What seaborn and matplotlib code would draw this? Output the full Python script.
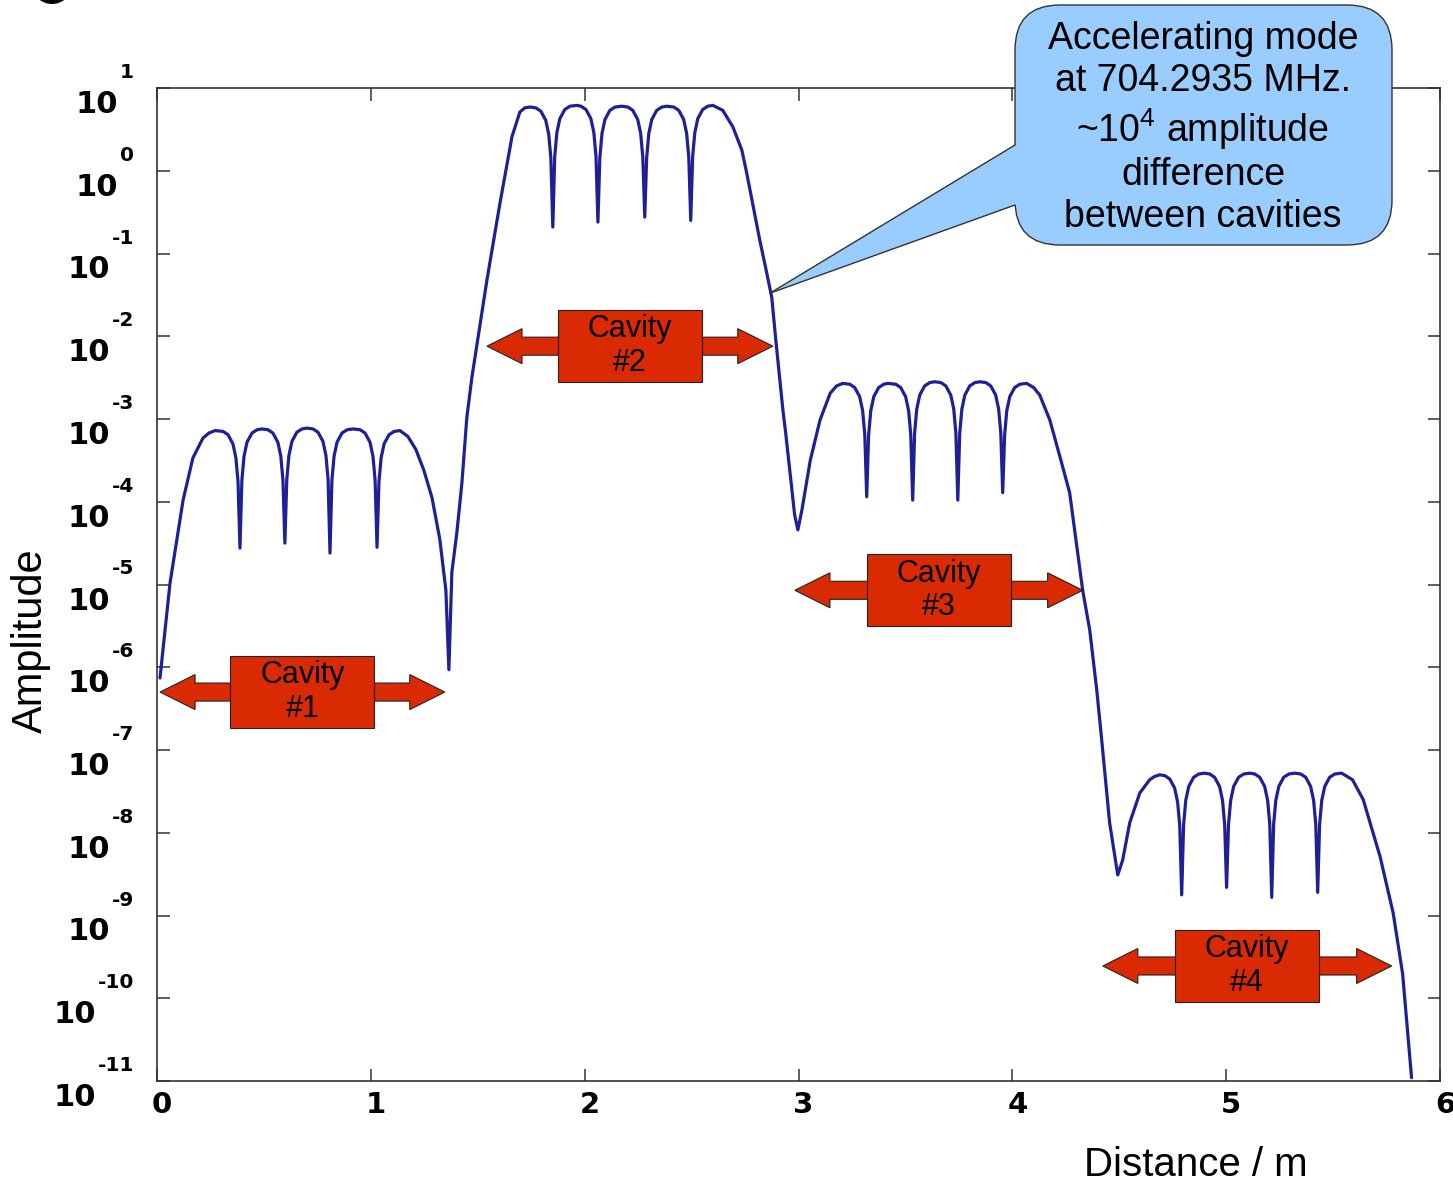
import matplotlib
matplotlib.use("Agg")
import pandas as pd
import matplotlib.pyplot as plt
from matplotlib.patches import Polygon, Rectangle, FancyBboxPatch, Ellipse
from matplotlib.lines import Line2D
from matplotlib.transforms import ScaledTranslation
import seaborn as sns

# field amplitude along the structure
# distance in m, amplitude given as power of ten
cav1_x = [0.014, 0.033, 0.061, 0.089, 0.122, 0.168, 0.215, 0.243, 0.271,
          0.309, 0.332, 0.355, 0.369, 0.379, 0.388,
          0.397, 0.407, 0.421, 0.444, 0.468, 0.491,
          0.519, 0.542, 0.565, 0.579, 0.589, 0.598,
          0.607, 0.617, 0.631, 0.654, 0.678, 0.701,
          0.730, 0.753, 0.776, 0.790, 0.800, 0.809,
          0.818, 0.828, 0.842, 0.865, 0.889, 0.916,
          0.950, 0.973, 0.996, 1.010, 1.020, 1.029,
          1.038, 1.048, 1.062, 1.085, 1.109, 1.136,
          1.173, 1.211, 1.248, 1.286, 1.323, 1.351, 1.365,
          1.379, 1.402, 1.426, 1.449]
cav1_e = [-6.13, -5.67, -4.98, -4.52, -3.98, -3.47, -3.23, -3.17, -3.14,
          -3.15, -3.19, -3.30, -3.47, -3.76, -4.56,
          -3.74, -3.45, -3.28, -3.17, -3.13, -3.12,
          -3.13, -3.17, -3.28, -3.45, -3.74, -4.50,
          -3.73, -3.44, -3.27, -3.16, -3.12, -3.11,
          -3.12, -3.16, -3.27, -3.44, -3.73, -4.62,
          -3.74, -3.45, -3.28, -3.17, -3.13, -3.12,
          -3.13, -3.17, -3.28, -3.45, -3.74, -4.55,
          -3.76, -3.47, -3.30, -3.19, -3.15, -3.14,
          -3.21, -3.37, -3.62, -3.95, -4.46, -5.07, -6.03,
          -4.85, -4.38, -3.77, -2.98]

cav2_x = [1.473, 1.543, 1.604, 1.660, 1.697, 1.720, 1.744,
          1.772, 1.795, 1.818, 1.832, 1.842, 1.851,
          1.860, 1.870, 1.884, 1.907, 1.931, 1.963,
          1.983, 2.006, 2.029, 2.043, 2.053, 2.062,
          2.071, 2.081, 2.095, 2.118, 2.142, 2.174,
          2.202, 2.225, 2.248, 2.262, 2.272, 2.281,
          2.290, 2.300, 2.314, 2.337, 2.361, 2.384,
          2.417, 2.440, 2.463, 2.477, 2.487, 2.496,
          2.505, 2.515, 2.529, 2.552, 2.576, 2.599,
          2.646, 2.693, 2.735, 2.758, 2.819, 2.847, 2.875, 2.894, 2.913,
          2.927, 2.941, 2.959, 2.982, 2.997]
cav2_e = [-2.49, -1.32, -0.39, 0.41, 0.71, 0.76, 0.77,
          0.76, 0.72, 0.61, 0.44, 0.15, -0.68,
          0.17, 0.46, 0.63, 0.74, 0.78, 0.79,
          0.78, 0.74, 0.63, 0.46, 0.17, -0.62,
          0.16, 0.45, 0.62, 0.73, 0.77, 0.78,
          0.77, 0.73, 0.62, 0.45, 0.16, -0.56,
          0.16, 0.45, 0.62, 0.73, 0.77, 0.78,
          0.77, 0.73, 0.62, 0.45, 0.16, -0.60,
          0.17, 0.46, 0.63, 0.74, 0.78, 0.79,
          0.73, 0.53, 0.25, -0.03, -0.84, -1.18, -1.53, -2.05, -2.53,
          -2.89, -3.19, -3.62, -4.16, -4.34]

cav3_x = [3.016, 3.055, 3.101, 3.148, 3.178, 3.207,
          3.240, 3.263, 3.286, 3.300, 3.310, 3.319,
          3.328, 3.338, 3.352, 3.375, 3.399, 3.417,
          3.455, 3.478, 3.501, 3.515, 3.525, 3.534,
          3.543, 3.553, 3.567, 3.590, 3.614, 3.637,
          3.666, 3.689, 3.712, 3.726, 3.736, 3.745,
          3.754, 3.764, 3.778, 3.801, 3.825, 3.848,
          3.876, 3.899, 3.922, 3.936, 3.946, 3.955,
          3.964, 3.974, 3.988, 4.011, 4.035, 4.067,
          4.100, 4.128, 4.175, 4.221, 4.268, 4.329, 4.362, 4.395, 4.418,
          4.455, 4.493]
cav3_e = [-4.10, -3.50, -3.01, -2.69, -2.60, -2.57,
          -2.58, -2.62, -2.73, -2.90, -3.19, -3.94,
          -3.19, -2.90, -2.73, -2.62, -2.58, -2.57,
          -2.58, -2.62, -2.73, -2.90, -3.19, -3.98,
          -3.17, -2.88, -2.71, -2.60, -2.56, -2.55,
          -2.56, -2.60, -2.71, -2.88, -3.17, -3.98,
          -3.17, -2.88, -2.71, -2.60, -2.56, -2.55,
          -2.56, -2.60, -2.71, -2.88, -3.17, -3.89,
          -3.19, -2.90, -2.73, -2.62, -2.58, -2.57,
          -2.62, -2.71, -3.01, -3.44, -3.89, -5.07, -5.55, -6.28, -6.88,
          -7.88, -8.51]

cav4_x = [4.516, 4.549, 4.596, 4.642, 4.665, 4.689,
          4.713, 4.736, 4.759, 4.773, 4.783, 4.792,
          4.801, 4.811, 4.825, 4.848, 4.872, 4.899,
          4.923, 4.946, 4.969, 4.983, 4.993, 5.002,
          5.011, 5.021, 5.035, 5.058, 5.082, 5.110,
          5.134, 5.157, 5.180, 5.194, 5.204, 5.213,
          5.222, 5.232, 5.246, 5.269, 5.293, 5.320,
          5.349, 5.372, 5.395, 5.409, 5.419, 5.428,
          5.437, 5.447, 5.461, 5.484, 5.508, 5.540,
          5.591, 5.641, 5.720, 5.781, 5.825, 5.867]
cav4_e = [-8.33, -7.88, -7.52, -7.36, -7.32, -7.30,
          -7.31, -7.35, -7.46, -7.63, -7.92, -8.75,
          -7.90, -7.61, -7.44, -7.33, -7.29, -7.28,
          -7.29, -7.33, -7.44, -7.61, -7.90, -8.66,
          -7.90, -7.61, -7.44, -7.33, -7.29, -7.28,
          -7.29, -7.33, -7.44, -7.61, -7.90, -8.78,
          -7.90, -7.61, -7.44, -7.33, -7.29, -7.28,
          -7.29, -7.33, -7.44, -7.61, -7.90, -8.72,
          -7.90, -7.61, -7.44, -7.33, -7.29, -7.28,
          -7.36, -7.60, -8.29, -8.97, -9.70, -10.96]

# cavity markers: arrow ends (m) and height (power of ten)
cavity_names = ["Cavity\n#1", "Cavity\n#2", "Cavity\n#3", "Cavity\n#4"]
arrow_left = [0.014, 1.543, 2.983, 4.423]
arrow_right = [1.346, 2.880, 4.329, 5.774]
arrow_exp = [-6.30, -2.12, -5.07, -9.61]

x_ticks = [0, 1, 2, 3, 4, 5, 6]
y_exps = list(range(-11, 2))

callout_text = ("Accelerating mode\nat 704.2935 MHz.\n~10$^4$ amplitude\n"
                "difference\nbetween cavities")
callout_point = (2.866, -1.48)

sns.set_style("ticks")
plt.rcParams["font.family"] = ["Liberation Sans", "DejaVu Sans"]
plt.rcParams["mathtext.fontset"] = "custom"
plt.rcParams["mathtext.rm"] = "Liberation Sans"
plt.rcParams["text.color"] = "black"
plt.rcParams["xtick.labelcolor"] = "black"

curve = pd.DataFrame({
    "dist": cav1_x + cav2_x + cav3_x + cav4_x,
    "amp": [10.0 ** e for e in cav1_e + cav2_e + cav3_e + cav4_e],
})

W, H = 1453, 1186
fig = plt.figure(figsize=(W / 100, H / 100), dpi=100)
ax = fig.add_axes([157 / W, 105 / H, 1283 / W, 993 / H])

sns.lineplot(data=curve, x="dist", y="amp", sort=False, estimator=None,
             color="#1f1f96", linewidth=2.3, ax=ax, zorder=2)
ax.set_yscale("log")
ax.set_xlim(0, 6)
ax.set_ylim(1e-11, 10)
ax.set_xlabel("")
ax.set_ylabel("")
ax.set_xticks(x_ticks)
ax.set_yticks([10.0 ** e for e in y_exps])
ax.yaxis.set_minor_locator(matplotlib.ticker.NullLocator())
ax.tick_params(which="major", direction="in", length=9, width=1.1,
               top=True, right=True, labelleft=False, color="#333333",
               labelsize=21, pad=7, labelcolor="black")
for spine in ax.spines.values():
    spine.set_color("#333333")
    spine.set_linewidth(1.2)

shift = ScaledTranslation(5 / 100, 0, fig.dpi_scale_trans)
ax.set_xticklabels([str(t) for t in x_ticks])
for lab in ax.get_xticklabels():
    lab.set_fontfamily("DejaVu Sans")
    lab.set_fontweight("bold")
    lab.set_transform(lab.get_transform() + shift)

# gnuplot style "10" with raised exponent
for e in y_exps:
    sup = ax.annotate(str(e), xy=(0, 10.0 ** e), xycoords=("axes fraction", "data"),
                      xytext=(-23, 10), textcoords="offset pixels",
                      ha="right", va="baseline", fontsize=14.5,
                      fontweight="bold", family="DejaVu Sans", color="black")
    ax.annotate("10", xy=(0, 0), xycoords=sup, xytext=(-2, -31),
                textcoords="offset pixels", ha="right", va="baseline",
                fontsize=22, fontweight="bold", family="DejaVu Sans",
                color="black")

# red double arrows with cavity boxes
head_len, head_h, shaft_h = 0.164, 0.2115, 0.109
box_w, box_h = 0.3366, 0.435
red = "#d92a04"
for name, x0, x1, yc in zip(cavity_names, arrow_left, arrow_right, arrow_exp):
    pts = [(x0, yc), (x0 + head_len, yc + head_h), (x0 + head_len, yc + shaft_h),
           (x1 - head_len, yc + shaft_h), (x1 - head_len, yc + head_h), (x1, yc),
           (x1 - head_len, yc - head_h), (x1 - head_len, yc - shaft_h),
           (x0 + head_len, yc - shaft_h), (x0 + head_len, yc - head_h)]
    ax.add_patch(Polygon([(px, 10.0 ** py) for px, py in pts], closed=True,
                         facecolor=red, edgecolor="#222222", linewidth=0.8, zorder=3))
    xc = (x0 + x1) / 2
    ax.add_patch(Rectangle((xc - box_w, 10.0 ** (yc - box_h)), 2 * box_w,
                           10.0 ** (yc + box_h) - 10.0 ** (yc - box_h),
                           facecolor=red, edgecolor="#222222", linewidth=0.8, zorder=4))
    ax.text(xc, 10.0 ** yc, name, ha="center", va="center", fontsize=22,
            linespacing=1.15, color="black", zorder=5)

# speech bubble callout
inch = fig.dpi_scale_trans
bx, by, bw, bh = 10.15, 9.41, 3.77, 2.40
bubble_col = "#99ccff"
fig.add_artist(FancyBboxPatch((bx, by), bw, bh,
                              boxstyle="round,pad=0,rounding_size=0.45",
                              transform=inch, facecolor=bubble_col,
                              edgecolor="#333333", linewidth=1.0, zorder=10))
tip = ax.transData.transform((callout_point[0], 10.0 ** callout_point[1])) / 100
base_top, base_bot = 10.41, 9.81
fig.add_artist(Polygon([tuple(tip), (bx, base_top), (bx + 0.1, base_top),
                        (bx + 0.1, base_bot), (bx, base_bot)], closed=True,
                       transform=inch, facecolor=bubble_col, edgecolor="none",
                       zorder=11))
for yb in (base_top, base_bot):
    fig.add_artist(Line2D([tip[0], bx], [tip[1], yb], transform=inch,
                          color="#333333", linewidth=1.0, zorder=12))
fig.text(1203 / W, 1 - 128 / H, callout_text, ha="center", va="center",
         fontsize=27, linespacing=1.2, color="black", zorder=13)

# axis titles
fig.text(31 / W, 1 - 641 / H, "Amplitude", rotation=90, ha="center",
         va="center", fontsize=30, color="black")
fig.text(1196 / W, 1 - 1176 / H, "Distance / m", ha="center", va="baseline",
         fontsize=29, color="black")

# clipped glyph at the top left corner of the slide
fig.add_artist(Ellipse((0.52, 11.99), 0.38, 0.34, transform=inch,
                       facecolor="black", edgecolor="none"))

fig.savefig("out.png", dpi=100)
